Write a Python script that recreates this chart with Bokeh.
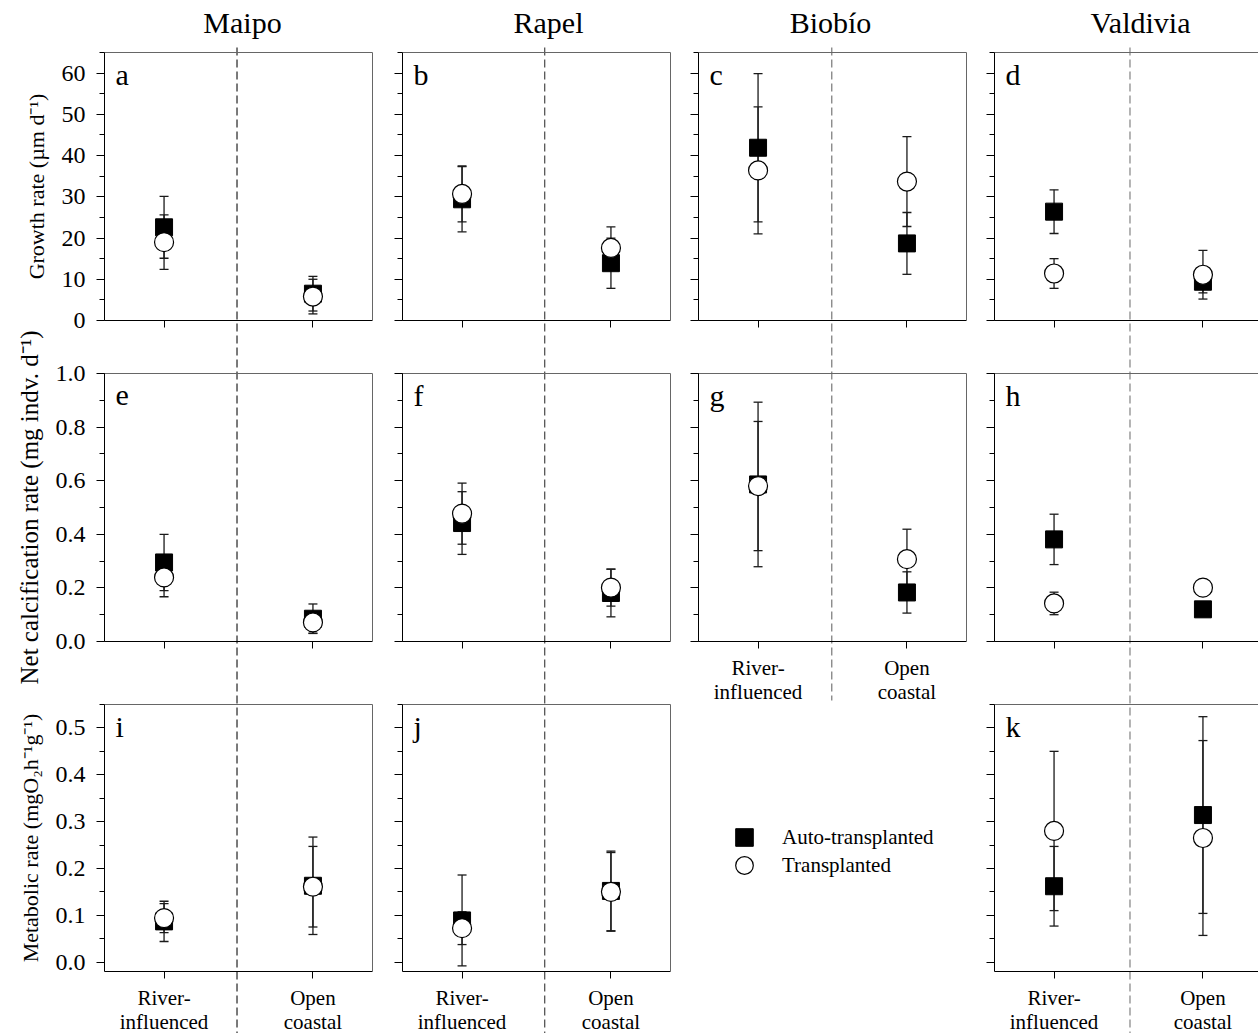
from bokeh.plotting import figure
from bokeh.models import (Range1d, LinearAxis, FixedTicker, SingleIntervalTicker,
                          Label, Legend, LegendItem, NumeralTickFormatter)
from bokeh.embed import file_html
from bokeh.resources import INLINE

# ---------------- data ----------------
sites = ["Maipo", "Rapel", "Biobío", "Valdivia"]
habitat_x = [1, 2]
habitat_labels = ["River-\ninfluenced", "Open\ncoastal"]
panel_letters = [["a", "b", "c", "d"], ["e", "f", "g", "h"], ["i", "j", None, "k"]]
series_names = ["Auto-transplanted", "Transplanted"]

# growth rate (um d-1): [river-influenced, open coastal] per site
growth_auto = [[22.6, 6.5], [29.4, 13.9], [41.9, 18.7], [26.4, 9.4]]
growth_auto_se = [[7.5, 4.2], [7.9, 6.1], [18.0, 7.5], [5.3, 2.7]]
growth_trans = [[19.0, 5.8], [30.7, 17.6], [36.4, 33.7], [11.4, 11.1]]
growth_trans_se = [[6.6, 4.2], [6.8, 5.1], [15.4, 10.9], [3.6, 5.9]]

# net calcification rate (mg indv. d-1)
calc_auto = [[0.295, 0.085], [0.442, 0.181], [0.586, 0.183], [0.381, 0.120]]
calc_auto_se = [[0.105, 0.055], [0.117, 0.089], [0.307, 0.077], [0.094, 0.020]]
calc_trans = [[0.239, 0.071], [0.477, 0.201], [0.580, 0.307], [0.142, 0.201]]
calc_trans_se = [[0.072, 0.040], [0.114, 0.069], [0.241, 0.112], [0.042, 0.020]]

# metabolic rate (mgO2 h-1 g-1); Biobío not measured
metab_auto = [[0.087, 0.163], [0.089, 0.152], None, [0.162, 0.314]]
metab_auto_se = [[0.043, 0.104], [0.097, 0.085], None, [0.085, 0.210]]
metab_trans = [[0.094, 0.161], [0.0725, 0.150], None, [0.280, 0.265]]
metab_trans_se = [[0.031, 0.086], [0.035, 0.084], None, [0.170, 0.208]]

y_labels = ["Growth rate (µm d⁻¹)",
            "Net calcification rate (mg indv. d⁻¹)",
            "Metabolic rate (mgO₂h⁻¹g⁻¹)"]
y_ranges = [(0, 65), (0, 1.0), (-0.02, 0.55)]
y_intervals = [10, 0.2, 0.1]
y_formats = ["0", "0.0", "0.0"]

variables = [
    (growth_auto, growth_auto_se, growth_trans, growth_trans_se),
    (calc_auto, calc_auto_se, calc_trans, calc_trans_se),
    (metab_auto, metab_auto_se, metab_trans, metab_trans_se),
]

# ---------------- styling / layout (pixels) ----------------
FONT = "Liberation Serif"
W, H = 1258, 1033
PANEL_L = [104, 402, 698, 994]          # left edge of each column's panels
PANEL_T = [52, 373, 704]                # top edge of each row's panels
PANEL_B = [320, 641, 971]               # bottom edge of each row's panels
PX_PER_X = 268 / 1.8
X0, X1 = 0.6, 2.4
DIV_X = [1.49, 1.555, 1.495, 1.51]
DIV_TOP = 47
DIV_BOT = [H, H, 700, H]
DIV_COL = ["#333333", "#555555", "#808080", "#8c8c8c"]
TITLE_X = [242, 548, 830, 1140]
TITLE_Y = 22
Y_LABEL_SIZE = ["22px", "25px", "22px"]
ERR_COL = "#1a1a1a"
OUTLINE = "#666666"
LEGEND_X = 722
LEGEND_Y = [174, 146]

p = figure(width=W, height=H, x_range=Range1d(0, W), y_range=Range1d(H, 0),
           x_axis_type=None, y_axis_type=None, output_backend="svg",
           toolbar_location=None, tools="", min_border=0, title=None)
p.outline_line_color = None
p.background_fill_color = "white"
p.border_fill_color = "white"

# one x range per column, one y range per row, placed by pixel geometry
xr = {}
for ci in range(4):
    start = X0 - PANEL_L[ci] / PX_PER_X
    xr[f"c{ci}"] = Range1d(start, start + W / PX_PER_X)
yrng = {}
for ri in range(3):
    y0, y1 = y_ranges[ri]
    pyu = (PANEL_B[ri] - PANEL_T[ri]) / (y1 - y0)
    yrng[f"r{ri}"] = Range1d(y0 - (H - PANEL_B[ri]) / pyu, y1 + PANEL_T[ri] / pyu)
p.extra_x_ranges = xr
p.extra_y_ranges = yrng

# column titles and dashed habitat dividers
for ci in range(4):
    p.add_layout(Label(x=TITLE_X[ci], y=TITLE_Y, text=sites[ci], text_font=FONT,
                       text_font_size="30px", text_align="center",
                       text_baseline="alphabetic", text_color="black"))
    p.segment(x0=[DIV_X[ci]], y0=[DIV_TOP], x1=[DIV_X[ci]], y1=[DIV_BOT[ci]],
              x_range_name=f"c{ci}", line_color=DIV_COL[ci], line_width=1.3,
              line_dash="8 4")


def edge_axis(xn, yn, loc, bounds):
    ax = LinearAxis(x_range_name=xn, y_range_name=yn, fixed_location=loc,
                    bounds=bounds, ticker=FixedTicker(ticks=[]),
                    axis_line_color=OUTLINE, axis_line_width=1,
                    major_tick_out=0, major_tick_in=0, minor_tick_out=0,
                    minor_tick_in=0, major_label_text_color=None)
    return ax


legend_renderers = None
for ri in range(3):
    auto, auto_se, trans, trans_se = variables[ri]
    y0, y1 = y_ranges[ri]
    pyu = (PANEL_B[ri] - PANEL_T[ri]) / (y1 - y0)
    yn = f"r{ri}"
    for ci in range(4):
        if auto[ci] is None:
            continue
        xn = f"c{ci}"
        # panel frame: grey top/right edges, black axes left/bottom
        p.add_layout(edge_axis(xn, yn, y1, (X0, X1)), "above")
        if ci != 3:
            p.add_layout(edge_axis(xn, yn, X1, (y0, y1)), "right")

        ya = LinearAxis(x_range_name=xn, y_range_name=yn, fixed_location=X0,
                        bounds=(y0, y1),
                        ticker=SingleIntervalTicker(interval=y_intervals[ri],
                                                    num_minor_ticks=2),
                        formatter=NumeralTickFormatter(format=y_formats[ri]),
                        major_tick_out=8, major_tick_in=0, minor_tick_out=5,
                        minor_tick_in=0, axis_line_color="black",
                        major_tick_line_color="black", minor_tick_line_color="black")
        if ci == 0:
            ya.axis_label = y_labels[ri]
            ya.axis_label_text_font = FONT
            ya.axis_label_text_font_size = Y_LABEL_SIZE[ri]
            ya.axis_label_text_font_style = "normal"
            ya.axis_label_text_color = "black"
            ya.axis_label_standoff = 10
            ya.major_label_text_font = FONT
            ya.major_label_text_font_size = "24px"
            ya.major_label_text_color = "black"
            ya.major_label_standoff = 11
        else:
            ya.major_label_text_color = None
        p.add_layout(ya, "left")

        xa = LinearAxis(x_range_name=xn, y_range_name=yn, fixed_location=y0,
                        bounds=(X0, X1),
                        ticker=FixedTicker(ticks=habitat_x, minor_ticks=[]),
                        major_tick_out=7, major_tick_in=0, minor_tick_out=0,
                        minor_tick_in=0, axis_line_color="black",
                        major_tick_line_color="black")
        if ri == 2 or (ri == 1 and ci == 2):
            xa.major_label_overrides = dict(zip(habitat_x, habitat_labels))
            xa.major_label_text_font = FONT
            xa.major_label_text_font_size = "21px"
            xa.major_label_text_color = "black"
            xa.major_label_text_line_height = 1.0
            xa.major_label_standoff = 7
        else:
            xa.major_label_text_color = None
        p.add_layout(xa, "below")

        # error bars, then squares, then circles on top
        for means, ses in [(auto[ci], auto_se[ci]), (trans[ci], trans_se[ci])]:
            lo = [m - s for m, s in zip(means, ses)]
            hi = [m + s for m, s in zip(means, ses)]
            p.segment(habitat_x, lo, habitat_x, hi, x_range_name=xn, y_range_name=yn,
                      line_color=ERR_COL, line_width=1.3)
            p.scatter(habitat_x + habitat_x, lo + hi, x_range_name=xn, y_range_name=yn,
                      marker="dash", size=9, line_color=ERR_COL, line_width=1.3)
        r_sq = p.scatter(habitat_x, auto[ci], x_range_name=xn, y_range_name=yn,
                         marker="square", size=17, fill_color="black",
                         line_color="black")
        r_ci = p.scatter(habitat_x, trans[ci], x_range_name=xn, y_range_name=yn,
                         marker="circle", size=19, fill_color="white",
                         line_color="black", line_width=1.2)
        if legend_renderers is None:
            legend_renderers = [r_sq, r_ci]

        p.add_layout(Label(x=X0 + 11 / PX_PER_X, y=y1 - 22 / pyu,
                           x_range_name=xn, y_range_name=yn,
                           text=panel_letters[ri][ci], text_font=FONT,
                           text_font_size="30px", text_baseline="alphabetic",
                           text_align="left", text_color="black"))

# legend (in the empty Biobío metabolic-rate cell)
for r, name, ly in zip(legend_renderers, series_names, LEGEND_Y):
    leg = Legend(items=[LegendItem(label=name, renderers=[r])],
                 location=(LEGEND_X, ly), glyph_width=44, glyph_height=44,
                 spacing=0, padding=0, margin=0, border_line_color=None,
                 background_fill_alpha=0, label_text_font=FONT,
                 label_text_font_size="21px", label_standoff=16,
                 label_text_color="black")
    p.add_layout(leg)

open("out.html", "w").write(file_html(p, INLINE, title="Growth, calcification and metabolic rates"))
